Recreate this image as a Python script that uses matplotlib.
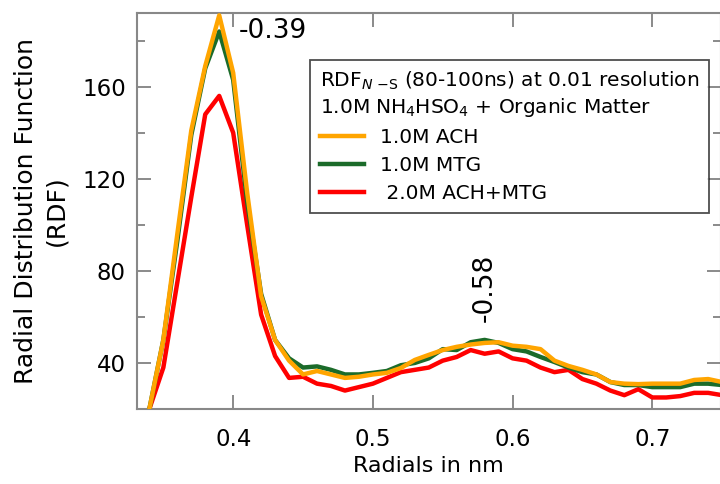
import numpy as np
import matplotlib
matplotlib.use("Agg")
import matplotlib.pyplot as plt
from matplotlib.ticker import MultipleLocator

plt.rcParams["font.family"] = ["DejaVu Sans"]

# RDF N-S, 80-100 ns window, 0.01 nm bins
radii = [0.34, 0.35, 0.36, 0.37, 0.38, 0.39, 0.40, 0.41, 0.42, 0.43, 0.44, 0.45, 0.46, 0.47,
         0.48, 0.49, 0.50, 0.51, 0.52, 0.53, 0.54, 0.55, 0.56, 0.57, 0.58, 0.59, 0.60, 0.61,
         0.62, 0.63, 0.64, 0.65, 0.66, 0.67, 0.68, 0.69, 0.70, 0.71, 0.72, 0.73, 0.74, 0.75]
rdf_ach = [20, 50, 96, 141, 169, 191, 166, 114, 69, 50, 41, 35, 36.5, 35,
           33.5, 34, 35, 35.7, 37.8, 41.3, 43.5, 45.6, 47, 48, 48.7, 49, 47.5, 47,
           46, 41, 38.7, 37, 35, 31.7, 31, 30.8, 31, 31, 31, 32.6, 33, 31.7]
rdf_mtg = [20, 50, 93, 139, 168, 184, 163, 110, 70, 50, 42, 38, 38.5, 37,
           35, 35, 35.7, 36.5, 39, 40, 42, 46, 45.6, 49, 50, 48.7, 46, 45,
           42.6, 40.4, 38, 36, 35, 31.7, 30.4, 30.4, 29.5, 29.5, 29.5, 31, 31, 30.4]
rdf_mix = [20, 38, 75, 112, 148, 156, 140, 100, 61, 43, 33.5, 34, 31, 30,
           28, 29.5, 31, 33.5, 36, 37, 38, 41, 42.6, 45.6, 44, 45, 42, 41,
           38, 36, 37, 33, 31, 28, 26, 28.6, 25, 25, 25.6, 27, 27, 26]

fig = plt.figure(figsize=(7.2, 4.84), dpi=100)
ax = fig.add_axes([0.190, 0.155, 0.811, 0.818])

l_ach, = ax.plot(radii, rdf_ach, color="#FFA500", lw=3.2, zorder=4, label="1.0M ACH")
l_mtg, = ax.plot(radii, rdf_mtg, color="#1B6B2A", lw=3.2, zorder=3, label="1.0M MTG")
l_mix, = ax.plot(radii, rdf_mix, color="#FF0000", lw=3.2, zorder=2, label=" 2.0M ACH+MTG")

ax.set_xlim(0.331, 0.749)
ax.set_ylim(20, 192)
ax.xaxis.set_major_locator(MultipleLocator(0.1))
ax.yaxis.set_major_locator(MultipleLocator(40))
ax.yaxis.set_minor_locator(MultipleLocator(20))
ax.tick_params(which="both", direction="in", top=True, right=True, color="#777777", width=1.2)
ax.tick_params(which="major", length=10, labelsize=16.5)
ax.tick_params(axis="x", which="major", pad=14)
ax.tick_params(axis="y", which="major", pad=8)
ax.tick_params(which="minor", length=6)
for s in ax.spines.values():
    s.set_color("#888888")
    s.set_linewidth(1.5)

ax.set_xlabel("Radials in nm", fontsize=16, labelpad=3)
ax.set_ylabel("Radial Distribution Function\n(RDF)", fontsize=18, labelpad=10, linespacing=1.3)

ax.text(0.4286, 184, "-0.39", fontsize=19, ha="center", va="center")
ax.text(0.58, 72.6, "-0.58", fontsize=19, ha="center", va="center", rotation=90)

leg = ax.legend(handles=[l_ach, l_mtg, l_mix],
                title="RDF$_{N\\ \\mathregular{-S}}$ (80-100ns) at 0.01 resolution\n"
                      "1.0M NH$_4$HSO$_4$ + Organic Matter",
                loc="upper left", bbox_to_anchor=(310 / 720, 1 - 60 / 484),
                bbox_transform=fig.transFigure, borderaxespad=0,
                fontsize=14.5, title_fontsize=14.5, alignment="left",
                fancybox=False, frameon=True, handlelength=2.2, handletextpad=0.8,
                labelspacing=0.45, borderpad=0.5)
leg.get_frame().set_edgecolor("#222222")
leg.get_frame().set_linewidth(1.3)

fig.savefig("out.png", dpi=100)
